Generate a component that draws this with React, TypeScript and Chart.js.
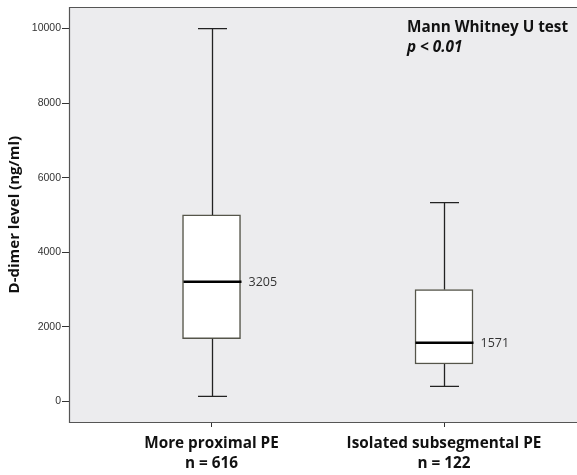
import React, { useEffect, useRef } from "react";
import { Chart, registerables } from "chart.js";
Chart.register(...registerables);

const categories = [
  ["More proximal PE", "n = 616"],
  ["Isolated subsegmental PE", "n = 122"],
];
const positions = [1, 2];
const whiskerMin = [130, 400];
const q1 = [1680, 1000];
const median = [3205, 1571];
const q3 = [5000, 3000];
const whiskerMax = [10000, 5330];
const medianLabels = ["3205", "1571"];
const yTicks = [0, 2000, 4000, 6000, 8000, 10000];
const annotation = ["Mann Whitney U test", "p < 0.01"];

const BOX_W = 58;

const boxPlugin = {
  id: "boxplotExtras",
  beforeDraw(chart: any) {
    const { ctx, chartArea: a } = chart;
    ctx.save();
    ctx.fillStyle = "#ECECEE";
    ctx.fillRect(a.left, a.top, ctx.canvas.width - a.left, a.bottom - a.top);
    ctx.restore();
  },
  afterDatasetsDraw(chart: any) {
    const { ctx } = chart;
    const x = chart.scales.x;
    const y = chart.scales.y;
    ctx.save();
    positions.forEach((p, i) => {
      const cx = Math.round(x.getPixelForValue(p)) + 0.5;
      const yMin = y.getPixelForValue(whiskerMin[i]);
      const yQ1 = y.getPixelForValue(q1[i]);
      const yMed = y.getPixelForValue(median[i]);
      const yQ3 = y.getPixelForValue(q3[i]);
      const yMax = y.getPixelForValue(whiskerMax[i]);
      ctx.strokeStyle = "#222";
      ctx.lineWidth = 1.3;
      ctx.beginPath();
      ctx.moveTo(cx, yQ3);
      ctx.lineTo(cx, yMax);
      ctx.moveTo(cx - BOX_W / 4, yMax);
      ctx.lineTo(cx + BOX_W / 4, yMax);
      ctx.moveTo(cx, yQ1);
      ctx.lineTo(cx, yMin);
      ctx.moveTo(cx - BOX_W / 4, yMin);
      ctx.lineTo(cx + BOX_W / 4, yMin);
      ctx.stroke();
      ctx.strokeStyle = "#000";
      ctx.lineWidth = 2.5;
      ctx.beginPath();
      ctx.moveTo(cx - BOX_W / 2, yMed);
      ctx.lineTo(cx + BOX_W / 2, yMed);
      ctx.stroke();
      ctx.fillStyle = "#333";
      ctx.font = "12.5px 'Open Sans'";
      ctx.textAlign = "left";
      ctx.textBaseline = "middle";
      ctx.fillText(medianLabels[i], cx + BOX_W / 2 + 7, yMed + 1);
    });
    ctx.restore();
  },
  afterDraw(chart: any) {
    const { ctx, chartArea: a } = chart;
    const l = Math.round(a.left) + 0.5;
    const t = Math.round(a.top) + 0.5;
    const b = Math.round(a.bottom) + 0.5;
    const r = ctx.canvas.width + 2;
    ctx.save();
    ctx.strokeStyle = "#555";
    ctx.lineWidth = 1.2;
    ctx.beginPath();
    ctx.moveTo(r, t);
    ctx.lineTo(l, t);
    ctx.lineTo(l, b);
    ctx.lineTo(r, b);
    ctx.stroke();
    ctx.fillStyle = "#111";
    ctx.textAlign = "left";
    ctx.textBaseline = "middle";
    ctx.font = "bold 15.3px 'Open Sans'";
    ctx.fillText(annotation[0], 407, 28);
    ctx.font = "italic bold 15.3px 'Open Sans'";
    ctx.fillText(annotation[1], 407, 48);
    ctx.restore();
  },
};

export default function App() {
  const ref = useRef<HTMLCanvasElement>(null);
  useEffect(() => {
    document.documentElement.style.overflow = "hidden";
    document.body.style.margin = "0";
    document.body.style.overflow = "hidden";
    const chart = new Chart(ref.current as HTMLCanvasElement, {
      type: "bar",
      data: {
        datasets: [
          {
            data: positions.map((p, i) => ({ x: p, y: [q1[i], q3[i]] })) as any,
            backgroundColor: "#FFFFFF",
            borderColor: "#55554A",
            borderWidth: 1.5,
            borderSkipped: false,
            barThickness: BOX_W,
          },
        ],
      },
      options: {
        responsive: false,
        animation: false,
        layout: { padding: { top: 6, right: 0, left: 0, bottom: 0 } },
        plugins: { legend: { display: false }, tooltip: { enabled: false } },
        scales: {
          x: {
            type: "linear",
            offset: false,
            min: 0.387,
            max: 2.572,
            afterBuildTicks: (axis: any) => {
              axis.ticks = positions.map((v) => ({ value: v }));
            },
            afterFit: (scale: any) => {
              scale.height = 53;
            },
            ticks: {
              autoSkip: false,
              maxRotation: 0,
              padding: 7,
              color: "#111",
              font: { family: "'Open Sans'", size: 15.3, weight: "bold", lineHeight: 1.3 },
              callback: (_v: any, i: number) => categories[i],
            },
            grid: { offset: false, drawOnChartArea: false, drawTicks: true, tickLength: 5, color: "#333" },
            border: { display: false },
          },
          y: {
            type: "linear",
            min: -555,
            max: 10571,
            afterBuildTicks: (axis: any) => {
              axis.ticks = yTicks.map((v) => ({ value: v }));
            },
            afterFit: (scale: any) => {
              scale.width = 69;
            },
            ticks: {
              padding: 1,
              color: "#333",
              font: { family: "'Liberation Sans'", size: 10.5 },
              callback: (v: any) => String(v),
            },
            grid: { drawOnChartArea: false, drawTicks: true, tickLength: 7, color: "#333" },
            border: { display: false },
            title: {
              display: true,
              text: "D-dimer level (ng/ml)",
              color: "#111",
              font: { family: "'Open Sans'", size: 15, weight: "bold" },
              padding: { top: 6, bottom: 0 },
            },
          },
        },
      },
      plugins: [boxPlugin],
    });
    return () => chart.destroy();
  }, []);
  return (
    <canvas
      ref={ref}
      width={577}
      height={475}
      style={{ display: "block", position: "fixed", left: 0, top: 0 }}
    />
  );
}
